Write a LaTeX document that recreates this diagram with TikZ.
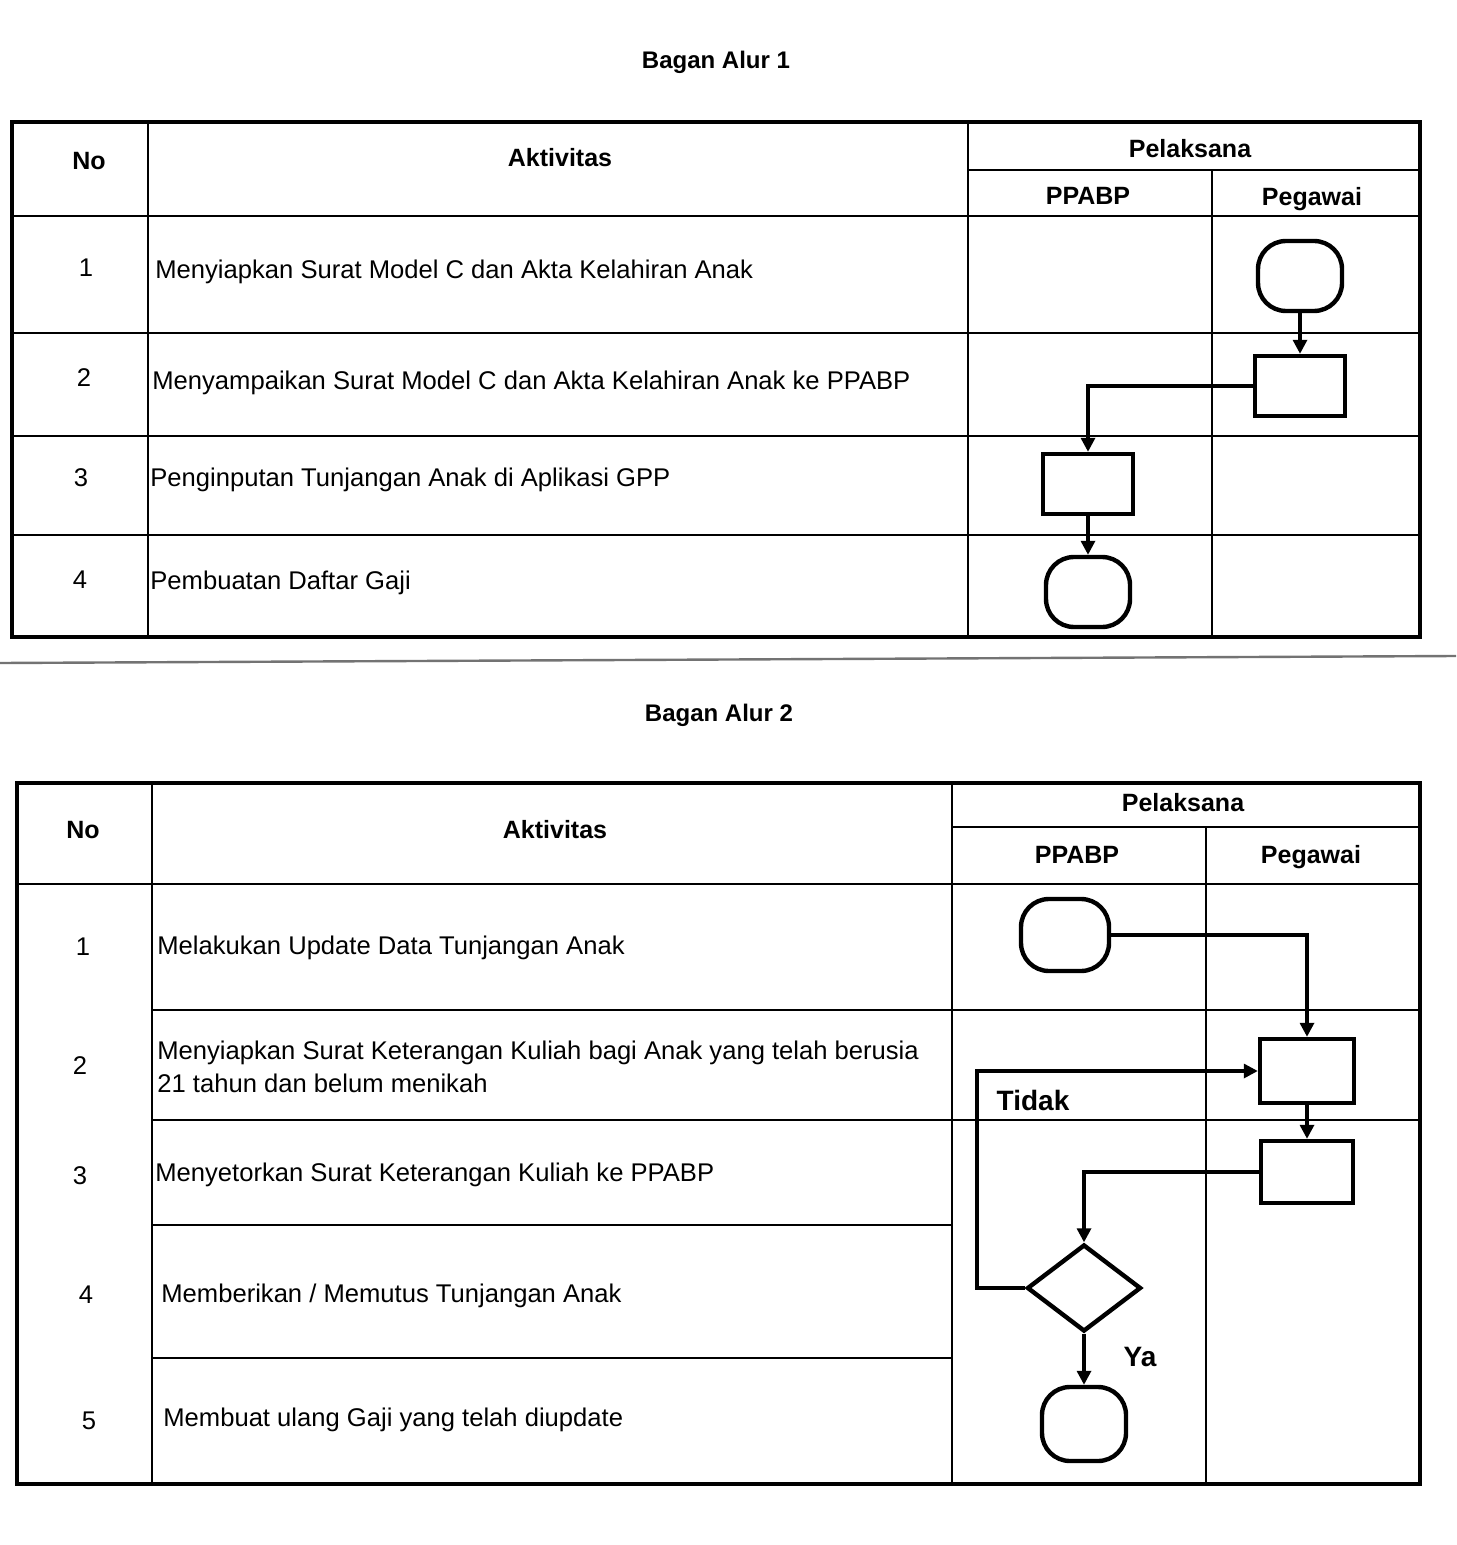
\documentclass[tikz,border=0pt]{standalone}
\usepackage{fontspec}
\setmainfont{Liberation Sans}
\usepackage{tikz}
\usetikzlibrary{calc, shapes.geometric, arrows.meta, positioning}

\begin{document}
\begin{tikzpicture}[
    x=0.5pt, y=-0.5pt,
    frame/.style={draw=black, line width=1.8pt},
    grid/.style={draw=black, line width=1.4pt},
    term/.style={rectangle, draw=black, line width=2.2pt, rounded corners=14pt, minimum width=42pt, minimum height=35pt},
    proc/.style={rectangle, draw=black, line width=2.2pt, minimum width=45pt, minimum height=30pt},
    decide/.style={diamond, draw=black, line width=2.2pt, minimum width=57pt, minimum height=43.5pt, inner sep=0pt},
    conn/.style={draw=black, line width=1.6pt, -{Triangle[length=7pt, width=7pt]}},
    title/.style={font=\fontsize{12}{14}\selectfont\bfseries, text height=1.5ex, text depth=0.25ex},
    head/.style={font=\fontsize{12.5}{15}\selectfont\bfseries, text height=1.5ex, text depth=0.25ex},
    num/.style={font=\fontsize{12.8}{16}\selectfont, text height=1.5ex, text depth=0.25ex},
    act/.style={anchor=west, align=left, inner sep=0pt, font=\fontsize{12.8}{16.5}\selectfont},
    lbl/.style={font=\fontsize{14}{16}\selectfont\bfseries}
]
    \useasboundingbox (0,0) rectangle (1456,1545);

    % Bagan Alur 1: table
    \node (title1) at (716, 62) [title] {Bagan Alur 1};
    \draw [frame] (12,122) rectangle (1420,637);
    \draw [grid] (148,122) -- (148,637);
    \draw [grid] (968,122) -- (968,637);
    \draw [grid] (968,170) -- (1420,170);
    \draw [grid] (1212,170) -- (1212,637);
    \foreach \y in {216,333,436,535} \draw [grid] (12,\y) -- (1420,\y);

    \node (a-no) at (89, 163) [head] {No};
    \node (a-akt) at (560, 160) [head] {Aktivitas};
    \node (a-pel) at (1190, 151) [head] {Pelaksana};
    \node (a-ppabp) at (1088, 198) [head] {PPABP};
    \node (a-peg) at (1312, 199) [head] {Pegawai};

    \node (a-n1) at (86, 270) [num] {1};
    \node (a-n2) at (84, 380) [num] {2};
    \node (a-n3) at (81, 480) [num] {3};
    \node (a-n4) at (80, 582) [num] {4};
    \node (a-t1) at (155, 272) [act] {Menyiapkan Surat Model C dan Akta Kelahiran Anak};
    \node (a-t2) at (152, 383) [act] {Menyampaikan Surat Model C dan Akta Kelahiran Anak ke PPABP};
    \node (a-t3) at (150, 480) [act] {Penginputan Tunjangan Anak di Aplikasi GPP};
    \node (a-t4) at (150, 583) [act] {Pembuatan Daftar Gaji};

    % Bagan Alur 1: flow
    \node (a-start) at (1300, 276) [term] {};
    \node (a-p1) at (1300, 386) [proc] {};
    \node (a-p2) at (1088, 484) [proc] {};
    \node (a-end) at (1088, 592) [term] {};
    \draw [conn] (a-start.south) -- (a-p1.north);
    \draw [conn] (a-p1.west) -| (a-p2.north);
    \draw [conn] (a-p2.south) -- (a-end.north);

    % edge of the sheet
    \draw [black!55, line width=1.2pt] (0,663) -- (1456,656);

    % Bagan Alur 2: table
    \node (title2) at (719, 715) [title] {Bagan Alur 2};
    \draw [frame] (17,783) rectangle (1420,1484);
    \draw [grid] (152,783) -- (152,1484);
    \draw [grid] (952,783) -- (952,1484);
    \draw [grid] (952,827) -- (1420,827);
    \draw [grid] (1206,827) -- (1206,1484);
    \draw [grid] (17,884) -- (1420,884);
    \foreach \y in {1010,1120} \draw [grid] (152,\y) -- (1420,\y);
    \foreach \y in {1225,1358} \draw [grid] (152,\y) -- (952,\y);

    \node (b-no) at (83, 832) [head] {No};
    \node (b-akt) at (555, 832) [head] {Aktivitas};
    \node (b-pel) at (1183, 805) [head] {Pelaksana};
    \node (b-ppabp) at (1077, 857) [head] {PPABP};
    \node (b-peg) at (1311, 857) [head] {Pegawai};

    \node (b-n1) at (83, 949) [num] {1};
    \node (b-n2) at (80, 1068) [num] {2};
    \node (b-n3) at (80, 1178) [num] {3};
    \node (b-n4) at (86, 1297) [num] {4};
    \node (b-n5) at (89, 1423) [num] {5};
    \node (b-t1) at (157, 948) [act] {Melakukan Update Data Tunjangan Anak};
    \node (b-t2) at (157, 1067) [act] {Menyiapkan Surat Keterangan Kuliah bagi Anak yang telah berusia\\21 tahun dan belum menikah};
    \node (b-t3) at (155, 1175) [act] {Menyetorkan Surat Keterangan Kuliah ke PPABP};
    \node (b-t4) at (161, 1296) [act] {Memberikan / Memutus Tunjangan Anak};
    \node (b-t5) at (163, 1420) [act] {Membuat ulang Gaji yang telah diupdate};

    % Bagan Alur 2: flow
    \node (b-start) at (1065, 935) [term, minimum width=44pt, minimum height=36pt] {};
    \node (b-p1) at (1307, 1071) [proc, minimum width=47pt, minimum height=32pt] {};
    \node (b-p2) at (1307, 1172) [proc, minimum width=46pt, minimum height=31pt] {};
    \node (b-dec) at (1084, 1288) [decide] {};
    \node (b-end) at (1084, 1424) [term, minimum height=37pt] {};
    \coordinate (b-back) at (977, 1288);

    \draw [conn] (b-start.east) -| (b-p1.north);
    \draw [conn] (b-p1.south) -- (b-p2.north);
    \draw [conn] (b-p2.west) -| (b-dec.north);
    \draw [conn] (b-dec.west) -- (b-back) |- (b-p1.west);
    \draw [conn] (b-dec.south) -- (b-end.north);
    \node (b-tidak) at (1033, 1100) [lbl] {Tidak};
    \node (b-ya) at (1140, 1357) [lbl] {Ya};

\end{tikzpicture}
\end{document}
